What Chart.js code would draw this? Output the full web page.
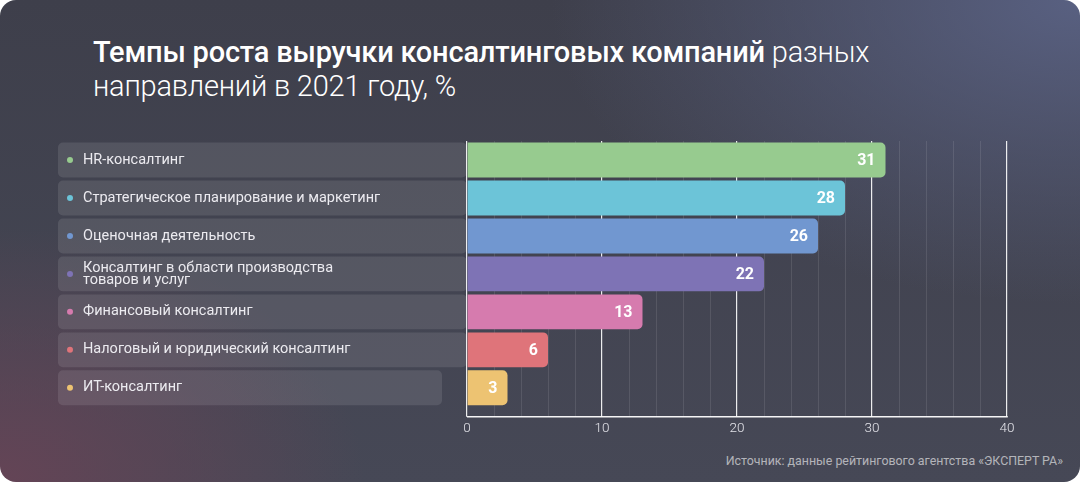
<!DOCTYPE html>
<html lang="ru">
<head>
<meta charset="utf-8">
<script src="https://cdn.jsdelivr.net/npm/chart.js@4"></script>
<style>
  html, body { margin: 0; padding: 0; background: #fff; }
  .card {
    position: relative;
    width: 1080px; height: 482px;
    border-radius: 16px;
    overflow: hidden;
    background:
      radial-gradient(ellipse 70% 90% at 100% 0%, rgba(90, 98, 132, 0.95), rgba(90, 98, 132, 0) 70%),
      radial-gradient(ellipse 45% 70% at 0% 100%, rgba(102, 68, 86, 0.95), rgba(102, 68, 86, 0) 75%),
      linear-gradient(180deg, #3e3f4b 0%, #464856 100%);
    font-family: Roboto, "Noto Sans", sans-serif;
  }
  .title {
    position: absolute; left: 93px; top: 35px;
    color: #fff; font-size: 29px; line-height: 34px;
    font-weight: 300; letter-spacing: -0.2px;
  }
  .title b { font-weight: 500; }
  .source {
    position: absolute; right: 17px; top: 453px;
    color: rgba(255,255,255,0.6); font-size: 12.4px;
  }
  canvas { position: absolute; left: 0; top: 0; }
</style>
</head>
<body>
<div class="card">
  <div class="title"><b>Темпы роста выручки консалтинговых компаний</b> разных<br>направлений в 2021 году, %</div>
  <div class="source">Источник: данные рейтингового агентства «ЭКСПЕРТ РА»</div>
  <canvas id="chart" width="1080" height="482"></canvas>
</div>
<script>
const categories = [
  ['HR-консалтинг'],
  ['Стратегическое планирование и маркетинг'],
  ['Оценочная деятельность'],
  ['Консалтинг в области производства', 'товаров и услуг'],
  ['Финансовый консалтинг'],
  ['Налоговый и юридический консалтинг'],
  ['ИТ-консалтинг']
];
const growth = [31, 28, 26, 22, 13, 6, 3];
const barColors = ['#97cb8f', '#6cc4d8', '#7197d0', '#7e73b5', '#d67bae', '#df747a', '#edc372'];
const xTicks = [0, 10, 20, 30, 40];

const labelBoxes = {
  id: 'labelBoxes',
  beforeDatasetsDraw(chart) {
    const { ctx, chartArea } = chart;
    const meta = chart.getDatasetMeta(0);
    ctx.save();
    meta.data.forEach((bar, i) => {
      const h = bar.height;
      const top = bar.y - h / 2;
      const right = i === categories.length - 1 ? 442 : chartArea.left;
      ctx.fillStyle = 'rgba(255,255,255,0.1)';
      ctx.beginPath();
      ctx.roundRect(58, top, right - 58, h, 5);
      ctx.fill();

      ctx.fillStyle = barColors[i];
      ctx.beginPath();
      ctx.arc(70, bar.y, 3, 0, Math.PI * 2);
      ctx.fill();

      ctx.fillStyle = '#ecebf0';
      ctx.font = '14.5px Roboto, "Noto Sans", sans-serif';
      ctx.textBaseline = 'middle';
      const lines = categories[i];
      const lh = 12;
      lines.forEach((t, k) => {
        ctx.fillText(t, 83, bar.y + (k - (lines.length - 1) / 2) * lh);
      });
    });
    // bottom axis line, below the last row
    ctx.strokeStyle = 'rgba(255,255,255,0.95)';
    ctx.lineWidth = 1.5;
    ctx.beginPath();
    ctx.moveTo(chartArea.left, chartArea.bottom + 10);
    ctx.lineTo(chartArea.right + 0.75, chartArea.bottom + 10);
    ctx.stroke();
    ctx.restore();
  },
  afterDatasetsDraw(chart) {
    const { ctx } = chart;
    const meta = chart.getDatasetMeta(0);
    ctx.save();
    ctx.fillStyle = '#fff';
    ctx.font = 'bold 16px Roboto, "Noto Sans", sans-serif';
    ctx.textAlign = 'right';
    ctx.textBaseline = 'middle';
    meta.data.forEach((bar, i) => {
      ctx.fillText(String(growth[i]), bar.x - 10, bar.y + 1);
    });
    ctx.restore();
  }
};

new Chart(document.getElementById('chart'), {
  type: 'bar',
  data: {
    labels: categories,
    datasets: [{
      data: growth,
      backgroundColor: barColors,
      borderRadius: 5,
      borderSkipped: 'start',
      barPercentage: 0.92,
      categoryPercentage: 1
    }]
  },
  options: {
    indexAxis: 'y',
    responsive: false,
    animation: false,
    layout: { padding: { left: 467, right: 73, top: 141, bottom: 41 } },
    plugins: { legend: { display: false }, tooltip: { enabled: false } },
    scales: {
      x: {
        min: 0,
        max: 40,
        border: { display: false },
        grid: {
          tickLength: 10,
          lineWidth: ctx => (ctx.tick && ctx.tick.value % 10 === 0 ? 1.2 : 1),
          color: ctx => (ctx.tick && ctx.tick.value % 10 === 0 ? 'rgba(255,255,255,0.9)' : 'rgba(255,255,255,0.1)')
        },
        ticks: {
          stepSize: 2,
          padding: 4,
          color: '#e4e4ea',
          font: { family: 'Roboto', size: 13.5, weight: 300 },
          callback: v => (xTicks.includes(v) ? String(v) : '')
        }
      },
      y: {
        display: false,
        grid: { display: false }
      }
    }
  },
  plugins: [labelBoxes]
});
</script>
</body>
</html>
